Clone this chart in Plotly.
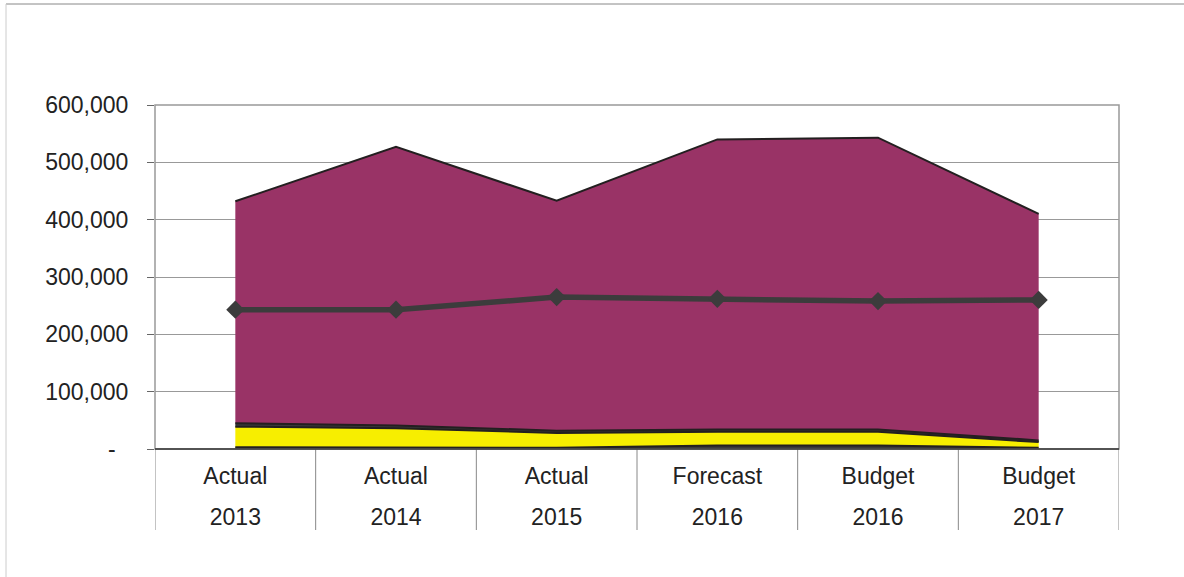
import plotly.graph_objects as go

cat_type = ["Actual", "Actual", "Actual", "Forecast", "Budget", "Budget"]
years = ["2013", "2014", "2015", "2016", "2016", "2017"]
s_bottom = [3000, 3000, 2000, 6000, 6000, 2000]
s_yellow = [36000, 33000, 26000, 24000, 24000, 10000]
s_thin = [6000, 5000, 4000, 4000, 4000, 3000]
s_maroon = [387000, 486000, 401000, 506000, 509000, 395000]
s_line = [243000, 243000, 265000, 262000, 258000, 260000]
y_ticks = [0, 100000, 200000, 300000, 400000, 500000, 600000]
y_ticktext = ["-\u00a0\u00a0", "100,000", "200,000", "300,000", "400,000", "500,000", "600,000"]

x = list(range(len(years)))

fig = go.Figure()
for vals, col in [(s_bottom, "#3a3a3a"), (s_yellow, "#F7EE00"), (s_thin, "#3a3a3a"), (s_maroon, "#993366")]:
    fig.add_trace(go.Scatter(x=x, y=vals, stackgroup="a", mode="lines",
                             line=dict(color="#231F20", width=2), fillcolor=col,
                             hoverinfo="skip"))
fig.add_trace(go.Scatter(x=x, y=s_line, mode="lines+markers",
                         line=dict(color="#3C3C3C", width=5.5),
                         marker=dict(symbol="diamond", size=14, color="#3C3C3C")))
# carrier trace for the second category row (years)
fig.add_trace(go.Scatter(x=x, y=s_line, xaxis="x2", mode="none", hoverinfo="skip"))

W, H = 1184, 577
L, R, T, B = 155, 1119, 105, 449
def px(xp):
    return (xp - L) / (R - L)
def py(yp):
    return (B - yp) / (B - T)

shapes = []
for i in range(len(years) + 1):
    shapes.append(dict(type="line", xref="x", yref="paper", x0=i - 0.5, x1=i - 0.5,
                       y0=0, y1=py(530), line=dict(color="#888", width=1)))
shapes.append(dict(type="line", xref="paper", yref="paper", x0=px(6), x1=px(1184),
                   y0=py(4), y1=py(4), line=dict(color="#888", width=1)))
shapes.append(dict(type="line", xref="paper", yref="paper", x0=px(6), x1=px(6),
                   y0=py(4), y1=py(577), line=dict(color="#ccc", width=1)))
shapes.append(dict(type="rect", xref="paper", yref="paper", x0=0, x1=1, y0=0, y1=1,
                   line=dict(color="#999", width=1.5), layer="above"))
shapes.append(dict(type="line", xref="paper", yref="paper", x0=0, x1=1, y0=0, y1=0,
                   line=dict(color="#333", width=1.5), layer="above"))

rng = [-0.5, len(years) - 0.5]
fig.update_layout(
    width=W, height=H, showlegend=False,
    paper_bgcolor="white", plot_bgcolor="white",
    margin=dict(l=L, r=W - R, t=T, b=H - B, pad=0),
    font=dict(family="Liberation Sans, Arial", size=23, color="#222"),
    shapes=shapes,
    xaxis=dict(range=rng, tickvals=x, ticktext=cat_type,
               showgrid=False, zeroline=False, ticks="", ticklabelstandoff=11),
    xaxis2=dict(range=rng, tickvals=x, ticktext=years, overlaying="x", side="bottom",
                anchor="y", showgrid=False, zeroline=False, ticks="",
                ticklabelstandoff=52),
    yaxis=dict(range=[0, 600000], tickvals=y_ticks, ticktext=y_ticktext,
               showgrid=True, gridcolor="#999", gridwidth=1, zeroline=False,
               ticks="outside", ticklen=7, tickcolor="#666", ticklabelstandoff=14),
)
fig.write_html("out.html", config={"displayModeBar": False},
               post_script="document.body.style.margin='0';")
